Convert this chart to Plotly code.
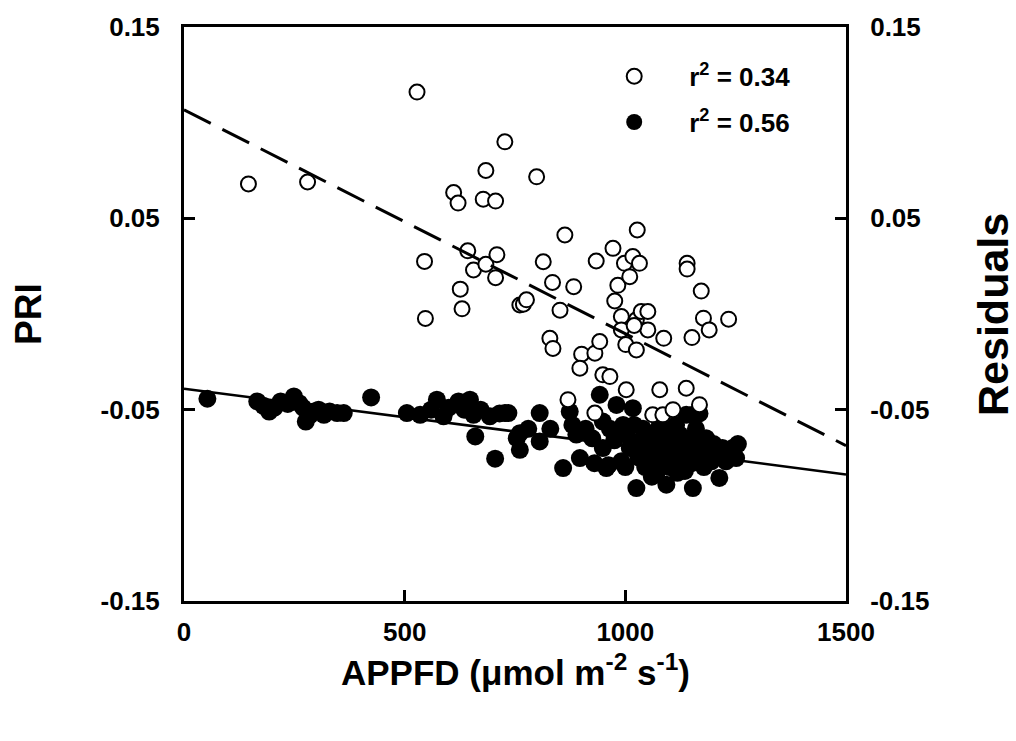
import plotly.graph_objects as go

# ---- data ----
open_x = [146, 280, 528, 545, 547, 611, 621, 626, 630, 643, 656, 678, 684, 684, 706, 709,
          706, 727, 761, 769, 776, 799, 814, 829, 835, 836, 852, 863, 883, 901, 897, 870,
          931, 934, 942, 949, 965, 972, 976, 983, 991, 991, 998, 1001, 1002, 1010, 1017,
          1025, 1025, 1027, 1032, 1036, 1051, 1051, 1062, 1078, 1085, 1087, 1108, 1138,
          1140, 1140, 1151, 1168, 1172, 1177, 1190, 1234, 931, 1020]
open_y = [0.068, 0.069, 0.116, 0.0275, -0.0023, 0.0635, 0.058, 0.013, 0.0027, 0.033, 0.023,
          0.060, 0.075, 0.026, 0.059, 0.031, 0.019, 0.090, 0.0047, 0.0051, 0.0074, 0.0717,
          0.0273, -0.0127, 0.0165, -0.018, 0.002, 0.0413, 0.0143, -0.021, -0.0283, -0.0448,
          -0.0205, 0.0277, -0.0144, -0.0318, -0.0327, 0.0343, 0.0068, 0.015, -0.0013, -0.0083,
          0.0265, -0.016, -0.0396, 0.0195, 0.030, -0.003, -0.0188, 0.0439, 0.0265, 0.0013,
          0.0013, -0.0083, -0.0527, -0.0396, -0.0527, -0.0127, -0.050, -0.0388, 0.0265,
          0.0235, -0.0123, -0.0474, 0.012, -0.0022, -0.0083, -0.0027, -0.0518, -0.006]

filled_x = [53, 166, 180, 193, 205, 219, 235, 249, 261, 270, 276, 285, 294, 305, 317, 330,
            347, 362, 424, 505, 535, 560, 573, 588, 600, 622, 635, 648, 656, 660, 672, 693,
            705, 715, 727, 735, 754, 761, 761, 780, 806, 806,
            830, 859, 874, 880, 889, 897, 910, 925, 930, 942, 949, 949, 957, 962, 965, 975,
            980, 991, 995, 1000, 1002,
            1010, 1017, 1020, 1025, 1030, 1035, 1040, 1045, 1047, 1050, 1055, 1060, 1065,
            1070, 1072, 1078, 1080, 1085, 1090, 1093, 1093, 1098, 1100, 1105, 1110, 1115,
            1118, 1123, 1128, 1130, 1135, 1138, 1140, 1145, 1150, 1153, 1153, 1158, 1160,
            1165, 1168, 1168, 1172, 1178, 1183, 1188, 1195, 1200, 1205, 1213, 1220, 1228,
            1235, 1243, 1251, 1255]
filled_y = [-0.0443, -0.0457, -0.048, -0.051, -0.049, -0.0457, -0.047, -0.0431, -0.0466,
            -0.049, -0.0562, -0.053, -0.051, -0.050, -0.0527, -0.051, -0.0518, -0.0518,
            -0.0436, -0.0518, -0.0527, -0.050, -0.0448, -0.0535, -0.049, -0.0457, -0.050,
            -0.0448, -0.0527, -0.064, -0.050, -0.0535, -0.0756, -0.052, -0.0518, -0.0518,
            -0.0649, -0.0623, -0.071, -0.060, -0.0518, -0.0666,
            -0.060, -0.0805, -0.051, -0.058, -0.063, -0.0753, -0.060, -0.065, -0.078,
            -0.0422, -0.0562, -0.0701, -0.0805, -0.079, -0.060, -0.066, -0.0475, -0.077,
            -0.058, -0.080, -0.063,
            -0.070, -0.0492, -0.058, -0.091, -0.075, -0.066, -0.060, -0.080, -0.077, -0.070,
            -0.063, -0.085, -0.072, -0.084, -0.065, -0.058, -0.078, -0.070, -0.062, -0.0892,
            -0.0683, -0.075, -0.080, -0.066, -0.072, -0.058, -0.083, -0.063, -0.076, -0.069,
            -0.082, -0.0527, -0.072, -0.065, -0.078, -0.0527, -0.091, -0.070, -0.060, -0.075,
            -0.077, -0.052, -0.068, -0.080, -0.0649, -0.072, -0.077, -0.068, -0.074, -0.0857,
            -0.070, -0.077, -0.072, -0.0701, -0.0753, -0.068]

# regression lines (intercept, slope)
fit_open = (0.1067, -1.17e-4)
fit_filled = (-0.039, -2.99e-5)
line_x = [0, 1500]

legend_labels = ["r<sup>2</sup> = 0.34", "r<sup>2</sup> = 0.56"]
x_ticks = [0, 500, 1000, 1500]
y_ticks = [-0.15, -0.05, 0.05, 0.15]

FONT = "Liberation Sans, Arial, sans-serif"

fig = go.Figure()

fig.add_trace(go.Scatter(
    x=line_x, y=[fit_filled[0] + fit_filled[1] * v for v in line_x],
    mode="lines", line=dict(color="black", width=2.5), showlegend=False, hoverinfo="skip"))
fig.add_trace(go.Scatter(
    x=line_x, y=[fit_open[0] + fit_open[1] * v for v in line_x], yaxis="y2",
    mode="lines", line=dict(color="black", width=3, dash="30px,13px"),
    showlegend=False, hoverinfo="skip"))

fig.add_trace(go.Scatter(
    x=filled_x, y=filled_y, mode="markers", name=legend_labels[1], legendrank=2,
    legendgroup="b",
    marker=dict(symbol="circle", size=18, color="black", line=dict(width=0))))
fig.add_trace(go.Scatter(
    x=open_x, y=open_y, mode="markers", name=legend_labels[0], legendrank=1,
    legendgroup="a",
    marker=dict(symbol="circle", size=15, color="white", line=dict(width=2, color="black"))))

axis_common = dict(
    showgrid=False, zeroline=False, showline=True, linecolor="black", linewidth=3,
    ticks="inside", ticklen=11, tickwidth=3, tickcolor="black",
    tickfont=dict(family=FONT, size=26, color="black", weight="bold"),
)

fig.update_layout(
    width=1016, height=741,
    margin=dict(l=184, r=170, t=23, b=140),
    paper_bgcolor="white", plot_bgcolor="white",
    xaxis=dict(range=[0, 1500], tickvals=x_ticks, ticktext=[str(v) for v in x_ticks],
               mirror=True, ticklabelstandoff=6, **axis_common),
    yaxis=dict(range=[-0.15, 0.15], tickvals=y_ticks, ticktext=[f"{v:.2f}" for v in y_ticks],
               ticklabelstandoff=16, **axis_common),
    yaxis2=dict(range=[-0.15, 0.15], tickvals=y_ticks, ticktext=[f"{v:.2f}" for v in y_ticks],
                overlaying="y", side="right", ticklabelstandoff=16, **axis_common),
    showlegend=True,
    legend=dict(x=0.597, y=0.955, xanchor="left", yanchor="top", bgcolor="rgba(0,0,0,0)",
                itemwidth=100, tracegroupgap=9, traceorder="grouped",
                font=dict(family=FONT, size=26, color="black", weight="bold")),
    annotations=[
        dict(text="APPFD (\u03bcmol m<sup>-2</sup> s<sup>-1</sup>)", xref="paper", yref="paper",
             x=0.5, y=-0.12, xanchor="center", yanchor="middle", showarrow=False,
             font=dict(family=FONT, size=35, color="black", weight="bold")),
        dict(text="PRI", xref="paper", yref="paper", x=-0.2357, y=0.5, textangle=-90,
             xanchor="center", yanchor="middle", showarrow=False,
             font=dict(family=FONT, size=37, color="black", weight="bold")),
        dict(text="Residuals", xref="paper", yref="paper", x=1.222, y=0.5, textangle=-90,
             xanchor="center", yanchor="middle", showarrow=False,
             font=dict(family=FONT, size=43, color="black", weight="bold")),
    ],
)

fig.write_html("out.html", config={"displayModeBar": False},
               post_script="document.body.style.margin='0';")
